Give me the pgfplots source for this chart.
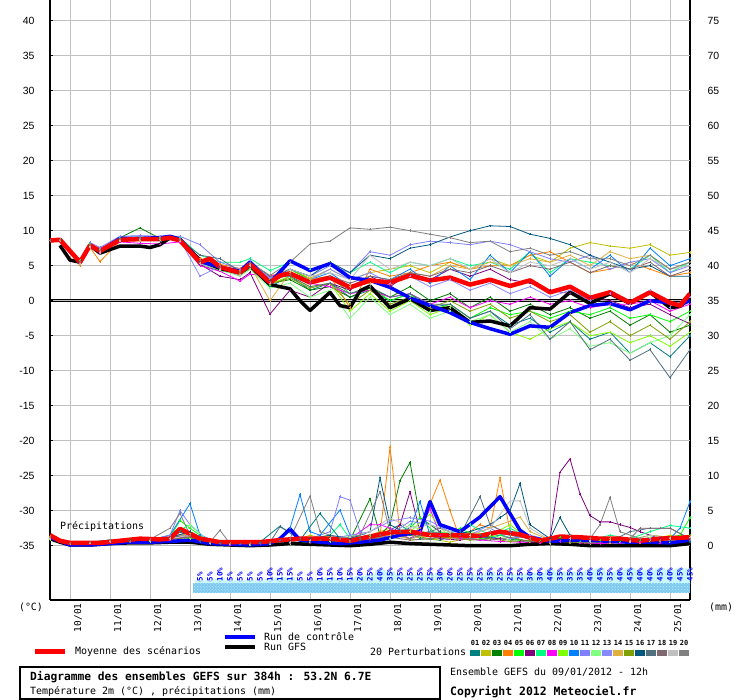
\documentclass[border=0pt]{standalone}
\usepackage{pgfplots}
\usepackage{pgfplotstable}
\pgfplotsset{compat=1.18}
\usepackage{fontspec}
\setmainfont{DejaVu Sans Mono}
\newfontfamily\tickfont{Liberation Sans}
\usetikzlibrary{patterns}
\newcommand\fs[1]{\fontsize{#1}{#1}\selectfont}
\definecolor{c01}{HTML}{008080}
\definecolor{c02}{HTML}{C0C000}
\definecolor{c03}{HTML}{008000}
\definecolor{c04}{HTML}{FF8000}
\definecolor{c05}{HTML}{00FF00}
\definecolor{c06}{HTML}{800080}
\definecolor{c07}{HTML}{00FF80}
\definecolor{c08}{HTML}{FF00FF}
\definecolor{c09}{HTML}{80FF00}
\definecolor{c10}{HTML}{0080FF}
\definecolor{c11}{HTML}{8080FF}
\definecolor{c12}{HTML}{80FF80}
\definecolor{c13}{HTML}{8888FF}
\definecolor{c14}{HTML}{E0B040}
\definecolor{c15}{HTML}{80A000}
\definecolor{c16}{HTML}{005880}
\definecolor{c17}{HTML}{507080}
\definecolor{c18}{HTML}{806870}
\definecolor{c19}{HTML}{C0C0C0}
\definecolor{c20}{HTML}{808080}
\definecolor{gridgray}{HTML}{C0C0C0}
\definecolor{ctrlblue}{HTML}{0000FF}
\definecolor{meanred}{HTML}{FF0000}
\definecolor{snowcyan}{HTML}{C8F8FF}
\definecolor{snowblue}{HTML}{7CC8F0}
\definecolor{snowdot}{HTML}{C8F0FF}

\pgfplotsset{
  mem/.style={color=#1, line width=0.8bp, mark=+, mark size=1.2bp, mark options={solid, line width=0.6bp}},
  pr/.style={y filter/.expression={y-35}},
}

\pgfplotstableread{
t a01 a02 a03 a04 a05 a06 a07 a08 a09 a10 a11 a12 a13 a14 a15 a16 a17 a18 a19 a20
0 8.6 8.6 8.6 8.6 8.6 8.6 8.6 8.6 8.6 8.6 8.6 8.6 8.6 8.6 8.6 8.6 8.6 8.6 8.6 8.6
6 8.6 8.8 8.7 8.7 8.7 8.7 8.8 8.7 8.7 8.7 8.7 8.7 8.7 8.7 8.7 8.7 8.7 8.7 8.6 8.7
18 5.6 5.4 5.5 5.0 5.7 5.5 5.8 5.4 5.6 5.5 5.6 5.4 5.3 5.6 5.5 5.5 5.6 5.5 5.2 5.5
24 8.0 7.8 8.1 7.6 8.2 7.9 8.1 7.7 8.0 7.9 8.3 7.8 7.9 8.0 7.9 8.0 7.9 7.9 7.6 8.0
30 7.2 7.0 7.3 5.6 7.2 7.0 7.4 6.8 7.1 7.2 7.6 7.0 7.5 7.0 7.1 7.2 7.1 7.0 6.9 7.2
42 8.9 8.5 9.0 8.5 8.8 8.6 9.0 8.4 8.8 8.9 9.2 8.6 8.8 8.8 8.7 8.8 8.7 8.7 8.5 8.8
54 9.0 8.6 10.4 8.8 8.7 8.7 9.1 8.2 8.9 9.0 9.3 8.7 8.9 8.9 8.8 8.8 8.8 8.8 8.7 8.9
66 8.6 8.9 8.9 9.2 8.9 8.7 9.0 8.1 8.8 8.9 9.2 8.7 8.8 8.9 8.8 8.9 8.7 8.8 8.7 8.9
78 8.8 8.8 8.7 8.9 8.6 8.5 9.0 8.4 8.7 8.8 9.2 8.6 8.7 8.8 8.6 8.8 8.7 8.6 8.5 8.8
90 5.2 5.8 5.0 6.0 5.3 5.2 6.5 5.0 5.6 5.5 8.0 5.3 3.5 5.6 5.4 5.6 6.5 5.5 5.3 5.8
102 4.5 5.0 4.3 5.2 4.6 3.5 5.5 4.2 4.9 4.6 5.5 4.4 4.9 5.0 4.7 4.9 6.0 4.8 4.5 5.0
114 3.6 4.3 3.8 4.6 3.8 3.0 5.5 2.8 4.0 3.9 4.5 3.5 4.2 3.7 3.9 4.1 4.2 4.0 3.6 4.2
120 4.8 5.5 4.5 5.5 5.0 4.0 6.0 3.8 5.1 5.3 5.8 4.5 5.3 5.0 5.0 5.3 5.5 5.2 5.0 5.4
132 2.0 3.0 2.5 3.5 2.2 -1.9 4.3 3.5 2.4 2.8 3.2 1.8 3.2 0.0 2.4 2.9 3.5 2.7 2.5 3.6
144 3.5 4.5 3.0 4.5 4.5 1.5 5.5 4.0 3.5 4.0 4.5 2.5 4.0 4.0 3.2 4.5 3.5 3.8 4.5 5.5
156 1.5 3.2 1.5 3.0 3.0 0.5 4.5 2.5 2.0 3.0 3.5 0.5 3.0 3.0 1.8 3.5 2.0 2.7 3.5 8.1
168 2.5 4.5 2.0 3.5 3.5 2.5 5.0 2.0 2.5 4.0 5.0 1.5 4.5 3.5 2.5 5.5 2.5 3.5 4.0 8.5
180 0.5 3.0 0.5 -1.0 1.0 1.5 4.0 1.0 -1.5 2.0 4.0 -2.5 3.0 2.0 -0.5 4.0 1.0 2.5 3.0 10.4
192 1.5 4.0 1.8 4.5 2.0 3.5 5.5 1.5 1.0 3.5 7.0 0.5 4.0 2.5 1.5 6.5 2.0 3.5 6.5 10.2
204 0.0 4.5 0.5 3.5 0.0 2.0 4.0 0.5 -1.5 3.0 6.5 -2.0 2.5 3.0 -0.5 6.0 0.5 3.0 4.5 10.5
216 1.0 5.0 2.0 4.0 1.0 4.0 5.5 1.0 0.0 4.5 8.0 -0.5 3.5 4.0 0.5 7.5 1.0 4.0 5.5 10.0
228 -1.0 4.0 0.0 5.0 -1.5 3.0 5.0 -0.5 -2.0 2.5 8.5 -2.5 2.0 3.5 -1.0 8.0 -0.5 3.5 5.0 9.5
240 -0.5 5.5 1.0 5.5 -0.5 4.5 6.0 0.5 -1.0 5.0 8.3 -1.5 3.0 5.0 0.0 9.1 -0.5 4.5 6.0 9.0
252 -2.5 4.5 -1.0 4.5 -2.5 3.5 5.0 -1.0 -3.5 3.0 8.0 -3.0 1.5 4.5 -1.5 10.0 -2.5 4.0 4.5 8.3
264 -1.5 6.0 0.5 5.0 -1.0 4.5 5.5 0.0 -2.0 6.5 8.5 -2.0 2.5 5.5 -0.5 10.7 -1.5 5.0 6.0 8.5
276 -3.5 5.0 -1.5 5.0 -2.0 3.0 4.5 -0.5 -4.5 4.0 8.0 -4.5 1.0 5.0 -2.5 10.6 -4.0 4.0 4.0 7.0
288 -2.5 6.5 -0.5 6.5 -1.5 2.5 7.0 0.5 -5.5 7.0 7.0 -3.0 2.0 6.0 -1.5 9.5 -2.0 5.0 5.5 7.5
300 -4.5 5.5 -2.0 7.0 -2.5 1.5 4.0 -0.5 -4.0 3.5 6.0 -5.5 0.5 5.5 -3.0 8.9 -5.5 4.5 5.0 6.5
312 -3.0 7.5 -1.0 5.5 -1.5 1.0 6.0 0.0 -3.0 6.0 5.5 -4.0 1.5 6.5 -2.0 8.0 -3.0 5.5 6.0 7.0
324 -5.5 8.3 -2.5 4.0 -2.0 0.5 5.5 -1.0 -5.0 4.5 6.5 -6.5 0.0 5.0 -4.5 6.5 -7.0 4.0 4.5 6.0
336 -4.5 7.8 -1.5 4.5 -1.0 0.0 5.0 -0.5 -4.5 6.5 4.5 -6.0 1.0 7.0 -3.0 5.5 -5.5 5.0 5.5 6.0
348 -7.5 7.5 -3.5 5.5 -2.5 -1.0 4.5 -0.5 -6.0 4.0 5.5 -7.5 -0.5 6.0 -5.0 4.5 -8.5 4.5 4.0 5.0
360 -6.0 8.0 -2.0 4.5 -2.0 -0.5 6.5 0.0 -5.0 7.5 6.0 -6.0 1.5 6.5 -3.5 5.0 -7.0 5.5 6.0 6.5
372 -8.0 6.5 -4.5 3.5 -3.0 -2.0 4.0 -1.5 -6.5 5.0 4.0 -5.0 -1.0 4.5 -5.5 3.5 -11.0 3.5 4.5 4.5
384 -5.0 6.9 -3.5 4.0 -1.5 -3.3 5.5 -0.5 -4.5 6.0 5.0 -2.0 0.5 5.5 -3.0 3.5 -7.0 4.5 5.0 5.5
}\temps

\begin{document}
\begin{tikzpicture}[x=1bp,y=1bp]
\useasboundingbox (0,0) rectangle (740,700);
\fill[white] (0,0) rectangle (740,700);

% right axis (labels 0..75)
\begin{axis}[
  at={(50bp,100bp)}, anchor=south west,
  scale only axis, width=640bp, height=600bp,
  xmin=0, xmax=384, ymin=-42.76, ymax=42.96,
  axis x line=none, axis y line*=right,
  axis line style={-, black, line width=1.6bp},
  ytick={-35,-30,...,40},
  yticklabels={0,5,10,15,20,25,30,35,40,45,50,55,60,65,70,75},
  yticklabel style={font=\tickfont\fs{10.5}, xshift=14bp},
  tick align=inside, major tick length=3bp,
  ytick style={black, line width=1bp},
]
\addplot[draw=none, forget plot] coordinates {(0,0)};
\end{axis}

\begin{axis}[
  at={(50bp,100bp)}, anchor=south west,
  scale only axis, width=640bp, height=600bp,
  xmin=0, xmax=384, ymin=-42.76, ymax=42.96,
  axis x line*=bottom, axis y line*=left,
  axis line style={-, black, line width=1.6bp},
  xtick={12,36,...,372}, xticklabels={},
  xtick style={draw=none},
  extra x ticks={16.8,40.8,64.8,88.8,112.8,136.8,160.8,184.8,208.8,232.8,256.8,280.8,304.8,328.8,352.8,376.8},
  extra x tick labels={10/01,11/01,12/01,13/01,14/01,15/01,16/01,17/01,18/01,19/01,20/01,21/01,22/01,23/01,24/01,25/01},
  extra x tick style={grid=none, xtick style={draw=none}},
  xticklabel style={rotate=90, anchor=east, font=\fs{9.5}},
  xmajorgrids, ymajorgrids,
  grid style={color=gridgray, line width=0.9bp},
  ytick={-35,-30,...,40},
  yticklabel style={font=\tickfont\fs{10.5}, xshift=-12bp},
  /pgf/number format/assume math mode=true,
  tick align=inside, major tick length=3bp,
  ytick style={black, line width=1bp},
  clip=true,
]
% zero line (double)
\addplot[black, line width=0.9bp, forget plot] coordinates {(0,0.16)(384,0.16)};
\addplot[black, line width=0.9bp, forget plot] coordinates {(0,-0.16)(384,-0.16)};

% snow probability bars
\addplot[fill=snowcyan, draw=none, forget plot] coordinates {(87,-40.33)(87,-39.97)(99,-39.97)(99,-39.76)(105,-39.76)(105,-39.97)(129,-39.97)(129,-39.76)(135,-39.76)(135,-39.54)(147,-39.54)(147,-39.97)(159,-39.97)(159,-39.76)(165,-39.76)(165,-39.54)(171,-39.54)(171,-39.76)(177,-39.76)(177,-39.54)(183,-39.54)(183,-39.33)(189,-39.33)(189,-39.12)(195,-39.12)(195,-38.47)(201,-38.47)(201,-38.69)(207,-38.69)(207,-39.12)(231,-39.12)(231,-38.90)(237,-38.90)(237,-39.33)(243,-39.33)(243,-39.12)(261,-39.12)(261,-38.69)(267,-38.69)(267,-39.12)(285,-39.12)(285,-38.90)(297,-38.90)(297,-38.47)(303,-38.47)(303,-38.69)(321,-38.69)(321,-38.47)(327,-38.47)(327,-38.26)(333,-38.26)(333,-38.69)(339,-38.69)(339,-38.47)(345,-38.47)(345,-38.26)(351,-38.26)(351,-38.47)(363,-38.47)(363,-38.26)(369,-38.26)(369,-38.47)(375,-38.47)(375,-38.26)(384,-38.26)(384,-40.33)};
\addplot[fill=snowblue, draw=none, forget plot, postaction={pattern=crosshatch dots, pattern color=snowdot}] coordinates {(86,-40.33)(384,-40.33)(384,-41.76)(86,-41.76)};
\addplot[only marks, mark=*, mark size=0.01bp, mark options={draw=none, fill=none}, forget plot,
  point meta=explicit,
  nodes near coords={\pgfmathprintnumber[fixed,precision=0]{\pgfplotspointmeta}\%},
  every node near coord/.append style={rotate=90, anchor=west, inner sep=0pt, font=\fs{7.5}\bfseries, text=ctrlblue}]
coordinates {
(90,-40.1)[5] (96,-40.1)[5] (102,-40.1)[10] (108,-40.1)[5] (114,-40.1)[5] (120,-40.1)[5] (126,-40.1)[5] (132,-40.1)[10] (138,-40.1)[15] (144,-40.1)[15]
(150,-40.1)[5] (156,-40.1)[5] (162,-40.1)[10] (168,-40.1)[15] (174,-40.1)[10] (180,-40.1)[15] (186,-40.1)[20] (192,-40.1)[25] (198,-40.1)[40] (204,-40.1)[35]
(210,-40.1)[25] (216,-40.1)[25] (222,-40.1)[25] (228,-40.1)[25] (234,-40.1)[30] (240,-40.1)[20] (246,-40.1)[25] (252,-40.1)[25] (258,-40.1)[25] (264,-40.1)[35]
(270,-40.1)[25] (276,-40.1)[25] (282,-40.1)[25] (288,-40.1)[30] (294,-40.1)[30] (300,-40.1)[40] (306,-40.1)[35] (312,-40.1)[35] (318,-40.1)[35] (324,-40.1)[40]
(330,-40.1)[45] (336,-40.1)[35] (342,-40.1)[40] (348,-40.1)[45] (354,-40.1)[40] (360,-40.1)[40] (366,-40.1)[45] (372,-40.1)[40] (378,-40.1)[45] (384,-40.1)[45]
};

% ---- temperature, members ----
\addplot[mem=c01] table[x=t,y=a01] {\temps};
\addplot[mem=c02] table[x=t,y=a02] {\temps};
\addplot[mem=c03] table[x=t,y=a03] {\temps};
\addplot[mem=c04] table[x=t,y=a04] {\temps};
\addplot[mem=c05] table[x=t,y=a05] {\temps};
\addplot[mem=c06] table[x=t,y=a06] {\temps};
\addplot[mem=c07] table[x=t,y=a07] {\temps};
\addplot[mem=c08] table[x=t,y=a08] {\temps};
\addplot[mem=c09] table[x=t,y=a09] {\temps};
\addplot[mem=c10] table[x=t,y=a10] {\temps};
\addplot[mem=c11] table[x=t,y=a11] {\temps};
\addplot[mem=c12] table[x=t,y=a12] {\temps};
\addplot[mem=c13] table[x=t,y=a13] {\temps};
\addplot[mem=c14] table[x=t,y=a14] {\temps};
\addplot[mem=c15] table[x=t,y=a15] {\temps};
\addplot[mem=c16] table[x=t,y=a16] {\temps};
\addplot[mem=c17] table[x=t,y=a17] {\temps};
\addplot[mem=c18] table[x=t,y=a18] {\temps};
\addplot[mem=c19] table[x=t,y=a19] {\temps};
\addplot[mem=c20] table[x=t,y=a20] {\temps};

% ---- precipitation, members (mm, plotted at mm-35) ----
\addplot[mem=c01, pr] coordinates {(0,1.2)(12,0.4)(24,0.5)(36,0.8)(48,0.6)(60,0.7)(72,1.0)(78,2.0)(90,0.6)(102,0.3)(114,0.2)(126,0.5)(138,2.8)(150,0.8)(162,4.6)(174,1.0)(186,0.8)(198,1.5)(210,3.0)(222,1.0)(234,0.8)(246,2.0)(258,1.5)(270,1.0)(282,0.8)(294,0.5)(306,1.0)(318,0.6)(330,0.5)(342,0.4)(354,0.8)(366,0.5)(384,0.8)};
\addplot[mem=c02, pr] coordinates {(0,1.0)(12,0.3)(24,0.4)(36,0.6)(48,0.5)(60,0.6)(72,0.8)(84,1.5)(96,0.3)(108,0.2)(120,0.2)(132,0.3)(144,0.5)(156,1.5)(168,0.8)(180,0.5)(192,1.5)(204,2.5)(216,0.8)(228,1.0)(240,0.5)(252,1.2)(264,1.5)(276,0.8)(288,0.5)(300,0.3)(312,0.5)(324,0.3)(336,1.0)(348,0.5)(360,0.8)(372,1.5)(384,1.0)};
\addplot[mem=c03, pr] coordinates {(0,1.1)(12,0.3)(24,0.4)(36,0.7)(48,0.8)(60,0.6)(72,1.2)(84,1.8)(96,0.4)(108,0.2)(120,0.3)(132,0.2)(144,0.6)(156,0.8)(168,1.2)(180,0.8)(192,6.7)(198,1.5)(204,3.0)(210,9.3)(216,11.9)(222,4.0)(234,2.0)(246,1.0)(258,0.8)(270,1.5)(282,0.8)(294,0.5)(306,1.0)(318,0.5)(330,0.3)(342,0.6)(354,0.4)(366,0.5)(384,0.6)};
\addplot[mem=c04, pr] coordinates {(0,1.3)(12,0.4)(24,0.4)(36,0.6)(48,0.7)(60,0.8)(72,1.0)(84,2.0)(96,0.5)(108,0.3)(120,0.2)(132,0.3)(144,0.5)(156,0.6)(168,1.0)(180,0.8)(192,1.0)(198,1.5)(204,14.1)(210,2.0)(216,1.5)(222,2.5)(234,9.4)(240,5.0)(246,1.0)(258,3.0)(264,2.5)(270,9.7)(276,2.0)(282,0.8)(294,0.5)(306,0.6)(318,0.4)(330,0.3)(342,0.5)(354,0.4)(366,0.6)(384,0.5)};
\addplot[mem=c05, pr] coordinates {(0,1.0)(12,0.3)(24,0.4)(36,0.8)(48,0.7)(60,0.9)(72,1.2)(78,3.6)(84,2.5)(96,0.5)(108,0.3)(120,0.2)(132,0.4)(144,0.5)(156,1.0)(168,0.6)(180,0.8)(192,1.0)(204,1.5)(216,2.5)(222,4.0)(234,1.0)(246,2.5)(258,1.0)(270,1.5)(282,0.8)(294,0.6)(306,1.2)(318,0.5)(330,0.8)(342,0.5)(354,0.6)(366,0.8)(378,1.5)(384,4.0)};
\addplot[mem=c06, pr] coordinates {(0,1.0)(12,0.3)(24,0.3)(36,0.6)(48,0.6)(60,0.7)(72,0.9)(84,1.2)(96,0.3)(108,0.2)(120,0.2)(132,0.4)(144,0.5)(156,0.4)(168,0.6)(180,1.0)(192,0.8)(204,1.5)(210,3.0)(216,7.7)(222,2.0)(234,1.0)(246,0.8)(258,1.2)(270,1.0)(282,0.6)(294,0.5)(300,1.0)(306,10.5)(312,12.4)(318,7.4)(324,4.3)(330,3.4)(336,3.4)(342,3.0)(348,2.6)(354,2.0)(366,1.0)(384,0.8)};
\addplot[mem=c07, pr] coordinates {(0,1.1)(12,0.4)(24,0.5)(36,0.7)(48,0.6)(60,0.8)(72,1.5)(84,3.0)(96,0.5)(108,0.3)(120,0.2)(132,0.5)(144,0.6)(156,0.8)(168,1.5)(174,3.0)(180,1.0)(192,1.5)(204,2.0)(216,1.5)(228,2.0)(240,1.8)(252,3.0)(264,1.5)(276,2.5)(288,1.0)(300,0.8)(312,1.0)(324,0.8)(336,1.5)(348,1.0)(360,2.0)(372,2.9)(384,2.5)};
\addplot[mem=c08, pr] coordinates {(0,1.0)(12,0.3)(24,0.3)(36,0.5)(48,0.5)(60,0.7)(72,0.8)(84,1.5)(96,0.3)(108,0.1)(120,0.2)(132,0.3)(144,0.4)(156,0.5)(168,0.8)(180,1.0)(192,3.0)(198,3.0)(204,2.5)(216,1.0)(222,2.0)(228,5.3)(234,1.5)(246,1.0)(258,0.8)(270,0.6)(282,0.5)(294,0.4)(306,0.6)(318,0.4)(330,0.3)(342,0.4)(354,0.5)(366,0.4)(384,0.5)};
\addplot[mem=c09, pr] coordinates {(0,0.9)(12,0.3)(24,0.4)(36,0.6)(48,0.5)(60,0.6)(72,0.9)(84,1.0)(96,0.3)(108,0.2)(120,0.1)(132,0.2)(144,0.3)(156,0.5)(168,0.6)(180,0.8)(192,1.0)(204,1.2)(216,2.0)(228,4.5)(240,1.0)(252,2.0)(264,1.5)(276,3.0)(288,0.8)(300,0.5)(312,1.5)(324,0.6)(336,0.8)(348,0.5)(360,0.6)(372,0.8)(384,1.0)};
\addplot[mem=c10, pr] coordinates {(0,1.2)(12,0.4)(24,0.5)(36,0.8)(48,0.6)(60,0.8)(72,1.5)(84,6.0)(90,1.5)(102,0.4)(114,0.2)(126,0.3)(138,0.8)(144,2.5)(150,7.3)(156,2.0)(162,1.5)(174,5.1)(180,1.5)(192,1.0)(204,1.5)(216,2.5)(222,6.3)(228,1.5)(240,1.0)(252,1.5)(264,1.0)(276,2.0)(288,1.0)(300,0.6)(312,0.8)(324,0.5)(336,0.6)(348,0.5)(360,0.8)(372,1.0)(378,2.5)(384,6.3)};
\addplot[mem=c11, pr] coordinates {(0,1.1)(12,0.3)(24,0.4)(36,0.7)(48,0.6)(60,0.8)(72,1.5)(78,5.0)(84,3.0)(96,0.5)(108,0.3)(120,0.2)(132,0.3)(144,0.5)(156,1.0)(168,2.0)(174,7.0)(180,6.5)(186,2.0)(192,1.0)(204,1.5)(216,3.5)(228,3.0)(240,2.0)(252,1.5)(264,2.5)(276,1.0)(288,1.5)(300,0.8)(312,0.5)(324,0.6)(336,0.8)(348,0.5)(360,1.0)(372,0.6)(384,0.8)};
\addplot[mem=c12, pr] coordinates {(0,1.0)(12,0.3)(24,0.4)(36,0.6)(48,0.5)(60,0.7)(72,1.0)(84,3.0)(96,0.4)(108,0.2)(120,0.2)(132,0.3)(144,0.4)(156,1.0)(168,0.8)(180,1.5)(192,1.2)(204,1.0)(216,3.0)(228,1.5)(240,2.0)(252,1.0)(264,1.5)(276,0.8)(288,0.6)(300,0.5)(312,0.6)(324,0.8)(336,0.5)(348,0.6)(360,1.2)(372,0.8)(384,1.0)};
\addplot[mem=c13, pr] coordinates {(0,1.0)(12,0.3)(24,0.4)(36,0.6)(48,0.6)(60,0.7)(72,1.0)(84,2.0)(96,0.4)(108,0.2)(120,0.2)(132,0.3)(144,0.6)(156,0.8)(168,1.0)(180,1.5)(192,2.0)(204,3.5)(216,4.0)(228,3.5)(240,2.0)(252,1.5)(264,3.0)(276,1.5)(288,1.0)(300,0.6)(312,0.8)(324,0.5)(336,0.6)(348,0.5)(360,0.6)(372,0.8)(384,1.0)};
\addplot[mem=c14, pr] coordinates {(0,1.0)(12,0.3)(24,0.4)(36,0.6)(48,0.6)(60,0.7)(72,1.0)(84,1.8)(96,0.5)(108,0.3)(120,0.2)(132,0.3)(144,0.5)(156,0.8)(168,1.0)(180,0.8)(192,1.2)(204,1.5)(216,1.0)(228,1.5)(240,1.0)(252,1.5)(264,2.5)(276,3.5)(282,4.1)(288,2.0)(300,0.8)(312,0.5)(324,0.6)(336,0.4)(348,0.5)(360,0.6)(372,0.5)(384,0.8)};
\addplot[mem=c15, pr] coordinates {(0,1.0)(12,0.3)(24,0.4)(36,0.6)(48,0.6)(60,0.7)(72,0.9)(84,1.2)(96,0.3)(108,0.2)(120,0.2)(132,0.3)(144,0.4)(156,0.6)(168,0.8)(180,0.5)(192,1.0)(204,1.2)(216,1.5)(228,1.0)(240,1.2)(252,0.8)(264,1.0)(276,0.6)(288,0.8)(300,0.5)(312,0.4)(324,0.6)(336,0.5)(348,0.8)(360,1.5)(372,1.2)(384,1.5)};
\addplot[mem=c16, pr] coordinates {(0,1.1)(12,0.4)(24,0.4)(36,0.7)(48,0.7)(60,0.8)(72,1.2)(84,2.0)(96,0.5)(108,0.3)(120,0.2)(132,0.4)(144,0.6)(156,1.0)(168,1.5)(180,1.0)(192,2.0)(198,9.7)(204,3.0)(216,1.5)(228,2.0)(240,1.5)(252,2.0)(264,3.0)(270,4.0)(276,5.0)(282,8.9)(288,3.0)(300,1.0)(306,4.0)(312,1.5)(324,1.0)(336,0.8)(348,0.6)(360,0.5)(372,0.6)(384,0.5)};
\addplot[mem=c17, pr] coordinates {(0,1.1)(12,0.4)(24,0.5)(36,0.7)(48,0.6)(60,0.8)(72,1.2)(84,1.5)(96,0.5)(108,0.3)(120,0.2)(132,0.5)(138,2.7)(150,1.0)(162,0.8)(174,1.2)(186,1.0)(198,1.5)(210,2.0)(222,1.5)(234,2.5)(246,1.5)(258,7.0)(264,3.0)(276,1.5)(288,1.0)(300,0.6)(312,0.8)(324,0.5)(336,0.6)(348,2.0)(360,2.5)(372,2.5)(384,1.0)};
\addplot[mem=c18, pr] coordinates {(0,1.0)(12,0.3)(24,0.4)(36,0.6)(48,0.5)(60,0.7)(72,0.9)(84,1.3)(96,0.4)(108,0.2)(120,0.2)(132,0.3)(144,0.4)(156,0.6)(168,0.8)(180,0.6)(192,1.0)(204,1.2)(216,0.8)(228,1.0)(240,1.5)(252,1.0)(264,0.8)(276,1.2)(288,0.6)(300,0.5)(312,0.6)(324,0.4)(336,0.5)(348,1.0)(354,2.5)(366,2.5)(372,2.5)(384,1.0)};
\addplot[mem=c19, pr] coordinates {(0,1.0)(12,0.3)(24,0.4)(36,0.6)(48,0.6)(60,0.7)(72,1.0)(84,1.5)(96,0.4)(108,0.2)(120,0.2)(132,0.3)(144,0.5)(156,0.8)(168,1.0)(180,1.2)(192,2.0)(204,4.0)(216,2.5)(228,3.0)(240,2.0)(252,1.5)(264,2.5)(276,6.4)(282,6.4)(288,2.5)(300,0.8)(312,1.0)(324,0.6)(336,0.8)(348,0.6)(360,1.5)(372,1.0)(384,1.2)};
\addplot[mem=c20, pr] coordinates {(0,1.2)(12,0.4)(24,0.5)(36,0.8)(48,0.6)(60,0.9)(72,2.5)(78,4.6)(84,1.5)(96,0.5)(102,2.2)(108,0.3)(120,0.3)(132,0.4)(144,1.0)(156,7.1)(162,2.0)(174,1.0)(186,1.5)(198,7.7)(204,2.0)(216,1.0)(228,2.0)(240,1.5)(252,1.0)(264,2.0)(276,1.5)(288,1.0)(300,0.8)(312,1.5)(324,1.0)(330,3.0)(336,6.9)(342,2.0)(354,1.0)(366,0.8)(384,0.8)};

% ---- GFS run (black) ----
\addplot[black, line width=3.5bp, line join=round] coordinates {(6,7.9)(12,5.8)(18,5.5)(24,7.9)(30,6.8)(42,7.8)(54,7.8)(60,7.6)(66,8.0)(72,9.0)(78,8.7)(90,5.8)(102,4.6)(114,4.0)(120,5.0)(132,2.3)(144,1.7)(150,0.0)(156,-1.4)(168,1.2)(174,-0.7)(180,-1.0)(186,1.4)(192,2.1)(204,-1.0)(216,0.3)(228,-1.4)(240,-1.0)(252,-3.1)(264,-2.9)(276,-3.6)(288,-1.0)(300,-1.2)(312,1.2)(324,-0.4)(336,1.0)(348,-0.4)(360,1.2)(372,-1.0)(378,-0.8)(384,0.4)};
\addplot[black, line width=3.5bp, line join=round, pr] coordinates {(0,1.0)(6,0.5)(12,0.1)(24,0.1)(36,0.3)(48,0.4)(60,0.4)(72,0.5)(84,0.5)(96,0.2)(108,0.1)(120,0.0)(132,0.1)(144,0.3)(156,0.2)(168,0.1)(180,0.0)(192,0.2)(204,0.5)(216,0.3)(228,0.2)(240,0.1)(252,0.0)(264,0.0)(276,0.0)(288,0.2)(300,0.3)(312,0.2)(324,0.0)(336,0.0)(348,0.0)(360,0.0)(372,0.0)(384,0.3)};

% ---- control run (blue) ----
\addplot[ctrlblue, line width=3.5bp, line join=round] coordinates {(0,8.6)(6,8.7)(18,5.5)(24,7.9)(30,7.1)(42,8.9)(54,8.9)(66,9.0)(72,9.2)(78,8.8)(90,5.6)(102,4.8)(114,4.2)(120,5.5)(132,2.5)(144,5.7)(156,4.3)(168,5.3)(180,3.3)(192,2.9)(204,1.9)(216,0.4)(228,-0.7)(240,-1.7)(252,-3.1)(264,-4.0)(276,-4.8)(288,-3.6)(300,-3.8)(312,-1.7)(324,-0.7)(336,-0.4)(348,-1.3)(360,0.0)(372,-0.3)(378,-0.6)(384,0.0)};
\addplot[ctrlblue, line width=3.5bp, line join=round, pr] coordinates {(0,1.2)(12,0.1)(24,0.1)(36,0.3)(48,0.5)(60,0.5)(72,0.6)(84,0.8)(96,0.3)(108,0.2)(120,0.1)(132,0.3)(138,1.0)(144,2.4)(150,0.8)(162,0.5)(174,0.3)(186,0.5)(198,0.8)(210,1.5)(222,2.0)(228,6.3)(234,3.0)(246,2.0)(258,4.1)(270,7.0)(276,4.6)(282,2.2)(288,1.2)(300,0.6)(312,0.8)(324,0.8)(336,0.6)(348,0.5)(360,0.5)(372,0.4)(384,0.8)};

% ---- ensemble mean (red) ----
\addplot[meanred, line width=4.5bp, line join=round] coordinates {(0,8.6)(6,8.7)(18,5.5)(24,7.9)(30,7.1)(42,8.7)(54,8.8)(66,8.8)(72,9.0)(78,8.6)(90,5.5)(96,6.0)(102,4.8)(114,4.0)(120,5.2)(132,2.6)(138,3.6)(144,3.9)(156,2.6)(168,3.3)(180,1.9)(192,2.9)(204,2.6)(216,3.6)(228,2.9)(240,3.3)(252,2.3)(264,3.0)(276,2.1)(288,2.9)(300,1.2)(312,2.0)(324,0.4)(336,1.2)(348,-0.3)(360,1.2)(372,-0.3)(378,-0.7)(384,1.0)};
\addplot[meanred, line width=4.5bp, line join=round, pr] coordinates {(0,1.5)(6,0.7)(12,0.4)(30,0.4)(42,0.7)(54,1.0)(66,0.9)(72,1.0)(78,2.4)(90,1.0)(102,0.5)(114,0.5)(126,0.5)(138,0.8)(150,1.0)(168,1.0)(180,0.7)(192,1.3)(204,1.9)(216,2.0)(228,1.5)(240,1.5)(258,1.4)(270,2.0)(282,1.6)(294,0.7)(306,1.3)(318,1.2)(330,1.0)(342,1.0)(354,0.7)(366,1.0)(384,1.2)};

\node[anchor=west, inner sep=0pt, font=\fs{10}] at (axis cs:6,-32.33) {Précipitations};
\end{axis}

% ---- annotations below the plot ----
\node[font=\fs{10}] at (31,93) {(°C)};
\node[font=\fs{10}] at (721,93) {(mm)};
\draw[meanred, line width=5bp] (35,48) -- (65,48);
\node[anchor=west, inner sep=0pt, font=\fs{10}] at (75,48) {Moyenne des scénarios};
\draw[ctrlblue, line width=4bp] (225,63.3) -- (255,63.3);
\node[anchor=west, inner sep=0pt, font=\fs{10}] at (264,63.3) {Run de contrôle};
\draw[black, line width=4bp] (225,53.3) -- (255,53.3);
\node[anchor=west, inner sep=0pt, font=\fs{10}] at (264,53.3) {Run GFS};
\node[anchor=west, inner sep=0pt, font=\fs{10}] at (370,48) {20 Perturbations};
\foreach \n/\c [count=\k from 0] in {01/c01,02/c02,03/c03,04/c04,05/c05,06/c06,07/c07,08/c08,09/c09,10/c10,11/c11,12/c12,13/c13,14/c14,15/c15,16/c16,17/c17,18/c18,19/c19,20/c20}{
  \fill[\c] ({470+11*\k},44) rectangle ++(10,6);
  \node[inner sep=0pt, font=\fs{7}\bfseries] at ({475+11*\k},57) {\n};
}
\draw[line width=1.5bp] (20,1) rectangle (440,33);
\node[anchor=west, inner sep=0pt, font=\fs{11.3}\bfseries] at (30,23.3) {Diagramme des ensembles GEFS sur 384h : 53.2N 6.7E};
\node[anchor=west, inner sep=0pt, font=\fs{10}] at (30,8) {Température 2m (°C) , précipitations (mm)};
\node[anchor=west, inner sep=0pt, font=\fs{10}] at (450,28) {Ensemble GEFS du 09/01/2012 - 12h};
\node[anchor=west, inner sep=0pt, font=\fs{11.5}\bfseries] at (450,8) {Copyright 2012 Meteociel.fr};
\end{tikzpicture}
\end{document}
